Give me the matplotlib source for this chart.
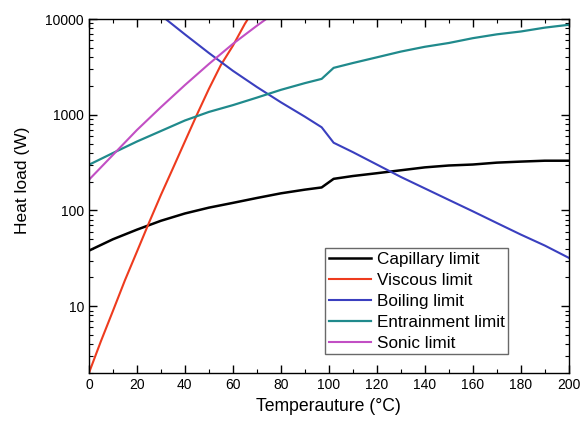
import matplotlib
matplotlib.use("Agg")
import matplotlib.pyplot as plt
from matplotlib.ticker import LogLocator, MultipleLocator, NullFormatter

plt.rcParams["font.family"] = ["Liberation Sans", "DejaVu Sans"]

# Heat pipe operating limits, heat load (W) vs temperature (°C)
temp_cap = [0, 10, 20, 30, 40, 50, 60, 70, 80, 90, 97, 102, 110, 120, 130, 140, 150, 160, 170, 180, 190, 200]
capillary = [38, 50, 63, 78, 93, 107, 120, 135, 151, 165, 174, 214, 229, 245, 263, 282, 295, 302, 316, 324, 331, 331]

temp_visc = [0, 5, 10, 15, 20, 25, 30, 35, 40, 45, 50, 55, 60, 65, 70]
viscous = [2.0, 4.3, 8.9, 18.6, 37, 74, 145, 275, 525, 1000, 1860, 3310, 5250, 8910, 14100]

temp_boil = [30, 40, 50, 60, 70, 80, 90, 97, 102, 110, 120, 130, 140, 150, 160, 170, 180, 190, 200]
boiling = [10960, 6920, 4420, 2880, 1950, 1350, 955, 740, 510, 407, 302, 224, 170, 129, 98, 74, 56, 43, 32]

temp_ent = [0, 10, 20, 30, 40, 50, 60, 70, 80, 90, 97, 102, 110, 120, 130, 140, 150, 160, 170, 180, 190, 200]
entrainment = [300, 398, 525, 676, 871, 1070, 1260, 1510, 1820, 2140, 2370, 3090, 3470, 3980, 4570, 5130,
               5620, 6310, 6920, 7410, 8130, 8710]

temp_son = [0, 10, 20, 30, 40, 50, 60, 70, 75]
sonic = [209, 380, 692, 1200, 2040, 3390, 5500, 8510, 10470]

fig = plt.figure(figsize=(5.81, 4.23), dpi=100)
ax = fig.add_axes([0.153, 0.118, 0.826, 0.837])

ax.plot(temp_cap, capillary, color="black", lw=1.8, label="Capillary limit")
ax.plot(temp_visc, viscous, color="#ee3b1e", lw=1.5, label="Viscous limit")
ax.plot(temp_boil, boiling, color="#3a3fbf", lw=1.5, label="Boiling limit")
ax.plot(temp_ent, entrainment, color="#208a8c", lw=1.6, label="Entrainment limit")
ax.plot(temp_son, sonic, color="#c24fc4", lw=1.5, label="Sonic limit")

ax.set_yscale("log")
ax.set_xlim(0, 200)
ax.set_ylim(2, 10000)
ax.xaxis.set_major_locator(MultipleLocator(20))
ax.xaxis.set_minor_locator(MultipleLocator(10))
ax.yaxis.set_minor_locator(LogLocator(base=10, subs=range(2, 10), numticks=10))
ax.yaxis.set_minor_formatter(NullFormatter())
ax.set_yticks([10, 100, 1000, 10000])
ax.set_yticklabels(["10", "100", "1000", "10000"])

ax.tick_params(which="both", direction="in", top=True, right=True, labelsize=10)
ax.tick_params(which="major", length=6, width=1)
ax.tick_params(which="minor", length=3, width=0.8)
for s in ax.spines.values():
    s.set_linewidth(1.0)

ax.set_xlabel("Temperauture (°C)", fontsize=12.7)
ax.set_ylabel("Heat load (W)", fontsize=12.5)
ax.yaxis.set_label_coords(-0.122, 0.545)

leg = ax.legend(loc="lower right", bbox_to_anchor=(0.873, 0.054), fontsize=12.3, frameon=True,
                fancybox=False, edgecolor="#444444", handlelength=2.5, handletextpad=0.3,
                labelspacing=0.35, borderpad=0.2, borderaxespad=0)
leg.get_frame().set_linewidth(1.0)

fig.savefig("out.png", dpi=100)
